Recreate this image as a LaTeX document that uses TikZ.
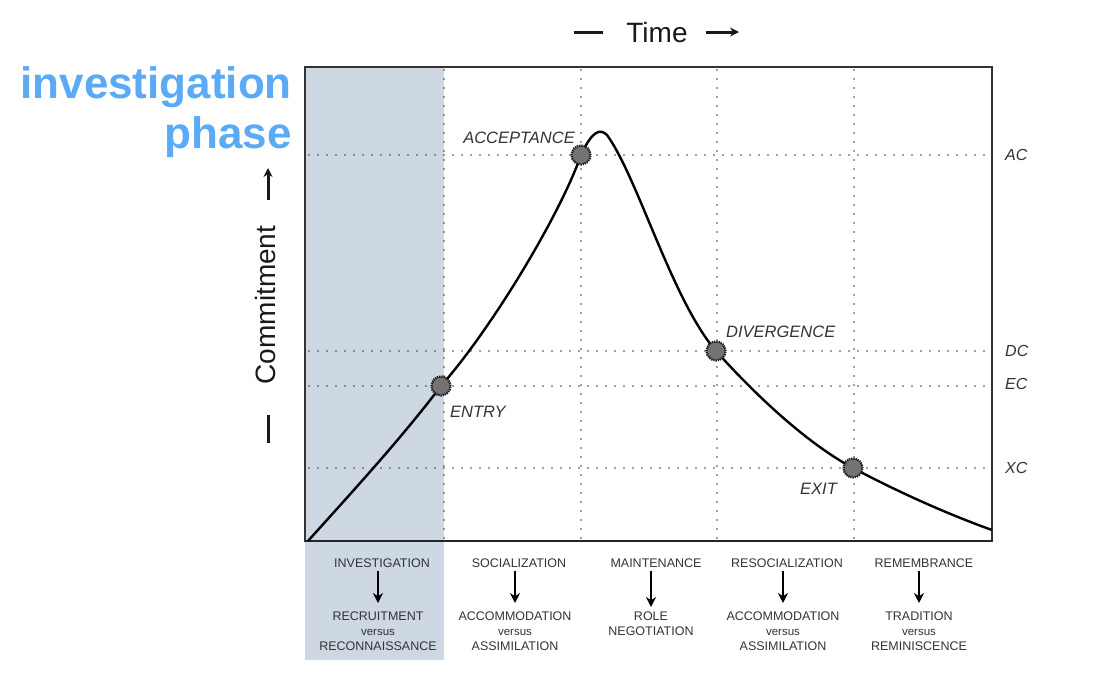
\documentclass[tikz,border=0pt]{standalone}
\usepackage{fontspec}
\setmainfont{Liberation Sans}
\usetikzlibrary{arrows.meta}
\definecolor{colshade}{HTML}{CDD8E2}
\definecolor{phaseblue}{HTML}{5AAAF5}
\definecolor{labgray}{HTML}{333333}
\newcommand{\smallvs}{\fontsize{11.5}{15}\selectfont}
\begin{document}
\begin{tikzpicture}[x=1pt,y=-1pt,
  grid/.style={draw=black!75, line width=1.6pt, dash pattern=on 0pt off 9pt, line cap=round},
  frame/.style={draw=black!80, line width=1.4pt},
  curve/.style={draw=black, line width=2.4pt},
  marker/.style={circle, minimum size=19pt, inner sep=0pt, fill=black!55, draw=black!90, line width=2.2pt, dash pattern=on 1.3pt off 0.9pt},
  milestone/.style={font=\fontsize{16.5}{19}\selectfont\itshape, text=black!80, inner sep=0pt},
  level/.style={font=\fontsize{16}{18}\selectfont\itshape, text=black!80, inner sep=0pt, anchor=west},
  axis/.style={font=\fontsize{28}{32}\selectfont, text=black!90, inner sep=0pt},
  glyph/.style={draw=black!90, line width=3pt},
  phasehead/.style={font=\fontsize{12.5}{15}\selectfont, text=labgray, inner sep=2pt},
  phasefoot/.style={font=\fontsize{12.5}{15}\selectfont, text=labgray, inner sep=2pt, align=center},
  downarrow/.style={draw=black, line width=2.4pt, -{Stealth[length=10pt,width=10pt]}, shorten <=1pt, shorten >=7pt},
  title/.style={font=\fontsize{44}{50}\selectfont\bfseries, text=phaseblue, align=right, inner sep=0pt}
]
\useasboundingbox (0,0) rectangle (1120,686);

% shaded investigation column
\fill[colshade] (305,67) rectangle (444,660);

% grid lines
\foreach \x in {444,581,717,854} \draw[grid] (\x,70) -- (\x,538);
\foreach \y in {155,351,386,468} \draw[grid] (309,\y) -- (988,\y);

% frame
\draw[frame] (305,67) rectangle (992,541);
\draw[draw=black!85, line width=2.2pt] (305,541) -- (992,541);

% curve points
\coordinate (start) at (308,541);
\coordinate (pE) at (441,386);
\coordinate (pA) at (581,155);
\coordinate (peak) at (607,135);
\coordinate (pD) at (716,351);
\coordinate (pX) at (853,468);
\coordinate (finish) at (992,530);

\draw[curve] (start) .. controls (352,492) and (400,440) .. (pE)
  .. controls (492,328) and (560,215) .. (pA)
  .. controls (592,131) and (600,128) .. (peak)
  .. controls (638,178) and (672,300) .. (pD)
  .. controls (760,400) and (810,445) .. (pX)
  .. controls (900,493) and (950,515) .. (finish);

\node[marker] (mE) at (pE) {};
\node[marker] (mA) at (pA) {};
\node[marker] (mD) at (pD) {};
\node[marker] (mX) at (pX) {};

% milestone labels
\node[milestone, anchor=east] (lA) at (575,138) {ACCEPTANCE};
\node[milestone, anchor=west] (lD) at (726,332) {DIVERGENCE};
\node[milestone, anchor=west] (lE) at (450,412) {ENTRY};
\node[milestone, anchor=west] (lX) at (800,489) {EXIT};

% level labels
\node[level] (AC) at (1005,155) {AC};
\node[level] (DC) at (1005,351) {DC};
\node[level] (EC) at (1005,384) {EC};
\node[level] (XC) at (1005,468) {XC};

% axis titles
\node[axis] (time) at (657,32) {Time};
\coordinate (td1) at (574,32); \coordinate (td2) at (603,32);
\coordinate (ta1) at (706,32); \coordinate (ta2) at (739,32);
\draw[glyph] (td1) -- (td2);
\draw[glyph, -{Stealth[length=9pt,width=9pt]}] (ta1) -- (ta2);

\node[axis, rotate=90] (commit) at (265,305) {Commitment};
\coordinate (ca1) at (268,200); \coordinate (ca2) at (268,168);
\coordinate (cd1) at (268,415); \coordinate (cd2) at (268,443);
\draw[glyph, -{Stealth[length=9pt,width=9pt]}] (ca1) -- (ca2);
\draw[glyph] (cd1) -- (cd2);

% investigation phase title
\node[title, anchor=north east] (inv) at (292,66) {investigation\\phase};

% phase labels
\node[phasehead] (h1) at (382,563) {INVESTIGATION};
\node[phasehead] (h2) at (519,563) {SOCIALIZATION};
\node[phasehead] (h3) at (656,563) {MAINTENANCE};
\node[phasehead] (h4) at (787,563) {RESOCIALIZATION};
\node[phasehead] (h5) at (924,563) {REMEMBRANCE};

\node[phasefoot, anchor=north] (f1) at (378,610) {RECRUITMENT\\{\smallvs versus}\\RECONNAISSANCE};
\node[phasefoot, anchor=north] (f2) at (515,610) {ACCOMMODATION\\{\smallvs versus}\\ASSIMILATION};
\node[phasefoot, anchor=north] (f3) at (651,610) {ROLE\\NEGOTIATION};
\node[phasefoot, anchor=north] (f4) at (783,610) {ACCOMMODATION\\{\smallvs versus}\\ASSIMILATION};
\node[phasefoot, anchor=north] (f5) at (919,610) {TRADITION\\{\smallvs versus}\\REMINISCENCE};

\draw[downarrow] (h1.south -| f1.north) -- (f1.north);
\draw[downarrow] (h2.south -| f2.north) -- (f2.north);
\draw[downarrow, shorten >=3pt] (h3.south -| f3.north) -- (f3.north);
\draw[downarrow] (h4.south -| f4.north) -- (f4.north);
\draw[downarrow] (h5.south -| f5.north) -- (f5.north);
\end{tikzpicture}
\end{document}
